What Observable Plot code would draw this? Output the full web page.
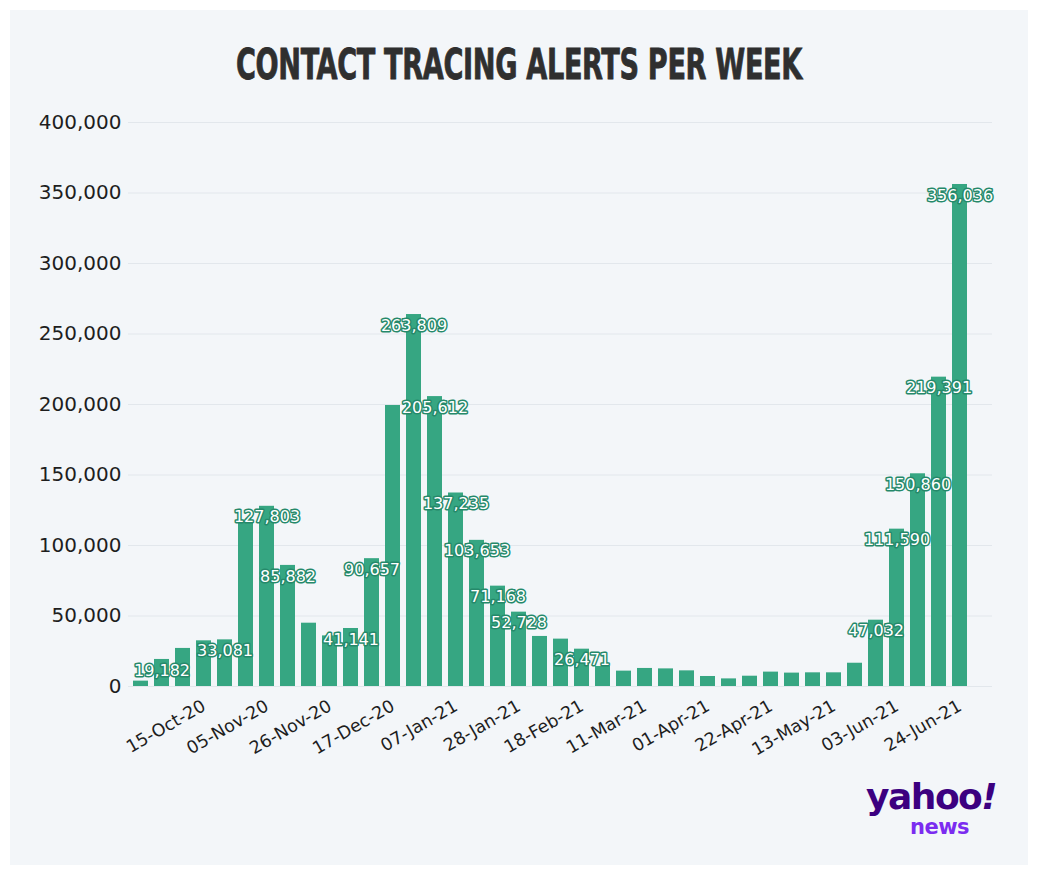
<!DOCTYPE html>
<html>
<head>
<meta charset="utf-8">
<script src="https://cdn.jsdelivr.net/npm/d3@7"></script>
<script src="https://cdn.jsdelivr.net/npm/@observablehq/plot@0.6"></script>
<style>
  html, body { margin: 0; padding: 0; background: #ffffff; width: 1039px; height: 876px; overflow: hidden; }
  #panel { position: absolute; left: 10px; top: 10px; width: 1018px; height: 855px; background: #f3f6f9; }
  #title { position: absolute; left: 0; top: 39px; width: 1039px; text-align: center; }
  #title span { display: inline-block; font-family: "DejaVu Sans Condensed", "DejaVu Sans"; font-stretch: condensed; font-weight: bold; font-size: 43px; color: #2f2f2f; letter-spacing: -0.5px; transform-origin: 50% 50%; white-space: nowrap; -webkit-text-stroke: 0.8px #2f2f2f; }
  #chart { position: absolute; left: 0; top: 100px; }
  #logo { position: absolute; left: 866px; top: 782px; font-family: "DejaVu Sans"; font-weight: bold; line-height: 1; }
  #logo .y { font-size: 36px; line-height: 30px; color: #3c0080; letter-spacing: -1.5px; display: block; }
  #logo .n { position: absolute; left: 44px; top: 36px; font-size: 21px; line-height: 18px; color: #7b2cf0; letter-spacing: -0.5px; }
</style>
</head>
<body>
<div id="panel"></div>
<div id="title"><span id="titletext">CONTACT TRACING ALERTS PER WEEK</span></div>
<div id="chart"></div>
<div id="logo"><span class="y">yahoo<i>!</i></span><span class="n">news</span></div>
<script>
const weeks = ["24-Sep-20","01-Oct-20","08-Oct-20","15-Oct-20","22-Oct-20","29-Oct-20","05-Nov-20","12-Nov-20","19-Nov-20","26-Nov-20","03-Dec-20","10-Dec-20","17-Dec-20","24-Dec-20","31-Dec-20","07-Jan-21","14-Jan-21","21-Jan-21","28-Jan-21","04-Feb-21","11-Feb-21","18-Feb-21","25-Feb-21","04-Mar-21","11-Mar-21","18-Mar-21","25-Mar-21","01-Apr-21","08-Apr-21","15-Apr-21","22-Apr-21","29-Apr-21","06-May-21","13-May-21","20-May-21","27-May-21","03-Jun-21","10-Jun-21","17-Jun-21","24-Jun-21"];
const alerts = [3800,19182,27000,32400,33081,116500,127803,85882,44900,35900,41141,90657,199300,263809,205612,137235,103653,71168,52728,35500,33600,26471,14200,10900,12800,12500,11100,7100,5400,7300,10200,9500,9700,9700,16500,47032,111590,150860,219391,356036];
const labelledWeeks = ["01-Oct-20","22-Oct-20","05-Nov-20","12-Nov-20","03-Dec-20","10-Dec-20","24-Dec-20","31-Dec-20","07-Jan-21","14-Jan-21","21-Jan-21","28-Jan-21","18-Feb-21","27-May-21","03-Jun-21","10-Jun-21","17-Jun-21","24-Jun-21"];
const tickWeeks = ["15-Oct-20","05-Nov-20","26-Nov-20","17-Dec-20","07-Jan-21","28-Jan-21","18-Feb-21","11-Mar-21","01-Apr-21","22-Apr-21","13-May-21","03-Jun-21","24-Jun-21"];
const yTicks = [0,50000,100000,150000,200000,250000,300000,350000,400000];

const data = weeks.map((w, i) => ({week: w, alerts: alerts[i]}));
const labelled = data.filter(d => labelledWeeks.includes(d.week));
const fmt = d3.format(",");

const chart = Plot.plot({
  width: 1039,
  height: 680,
  marginTop: 22,
  marginBottom: 94,
  marginLeft: 128,
  marginRight: 47,
  style: {background: "transparent", fontFamily: "DejaVu Sans", color: "#1e1e1e"},
  x: {domain: weeks, paddingInner: 0.286, paddingOuter: 0.714, align: 0.157, label: null},
  y: {domain: [0, 400000], label: null},
  marks: [
    Plot.gridY(yTicks, {stroke: "#e2e7ec", strokeOpacity: 1}),
    Plot.barY(data, {x: "week", y: "alerts", fill: "#36a682"}),
    Plot.text(labelled, {x: "week", y: "alerts", text: d => fmt(d.alerts), dy: 11, fill: "white", stroke: "#25896a", strokeWidth: 3, paintOrder: "stroke", fontSize: 16, letterSpacing: "-0.6px"}),
    Plot.axisY(yTicks, {tickSize: 0, tickPadding: 7, fontSize: 20, tickFormat: fmt, fill: "#1e1e1e"}),
    Plot.axisX(tickWeeks, {tickSize: 0, tickPadding: 14, dy: 4, tickRotate: -30, fontSize: 17.5, fill: "#1e1e1e"})
  ]
});
document.getElementById("chart").appendChild(chart);

const t = document.getElementById("titletext");
const w = t.getBoundingClientRect().width;
t.style.transform = `scaleX(${566 / w})`;
</script>
</body>
</html>
